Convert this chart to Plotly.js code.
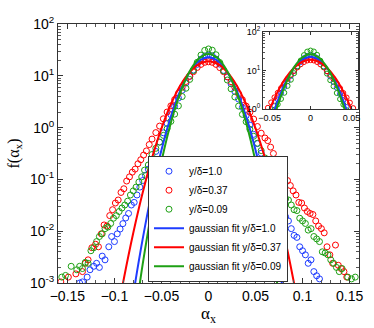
<!DOCTYPE html>
<html>
<head>
<meta charset="utf-8">
<script src="https://cdn.plot.ly/plotly-3.0.1.min.js"></script>
<style>body{margin:0;background:#fff}</style>
</head>
<body>
<div id="chart" style="width:374px;height:328px"></div>
<script>
// histogram points, f(alpha_x)
var blueX = [-0.137,-0.134,-0.129,-0.126,-0.122,-0.119,-0.116,-0.113,-0.110,-0.106,-0.103,-0.100,-0.097,-0.094,-0.091,-0.088,-0.085,-0.082,-0.079,-0.076,-0.073,-0.070,-0.067,-0.064,
  -0.060,-0.056,-0.052,-0.048,-0.044,-0.040,-0.036,-0.032,-0.028,-0.024,-0.020,-0.016,-0.012,-0.008,-0.004,0.000,
  0.004,0.008,0.012,0.016,0.020,0.024,0.028,0.032,0.036,0.040,0.044,0.048,0.052,0.056,0.060,
  0.064,0.067,0.070,0.073,0.076,0.079,0.082,0.085,0.088,0.091,0.094,0.097,0.100,0.103,0.106,0.109,0.112,0.115,0.118];
var blueY = [0.00100,0.00105,0.0013,0.0018,0.0021,0.0024,0.0020,0.0033,0.0028,0.0050,0.0079,0.0063,0.0089,0.011,0.014,0.018,0.022,0.032,0.036,0.050,0.071,0.095,0.120,0.158,
  0.229,0.347,0.525,0.794,1.20,1.78,2.57,3.72,5.25,7.24,9.77,12.9,16.6,20.9,24.0,25.1,
  24.2,21.0,16.8,12.7,9.5,7.0,5.0,3.55,2.45,1.70,1.12,0.74,0.49,0.32,0.21,
  0.132,0.100,0.071,0.050,0.038,0.025,0.019,0.0158,0.0112,0.0083,0.0076,0.0050,0.0042,0.0035,0.0024,0.0028,0.00166,0.00138,0.0012];

var redX = [-0.157,-0.149,-0.141,-0.134,-0.131,-0.128,-0.124,-0.120,-0.117,-0.114,-0.111,-0.108,-0.105,-0.102,-0.099,-0.096,-0.093,-0.090,-0.087,-0.084,-0.081,-0.078,-0.075,-0.072,-0.069,-0.066,-0.063,
  -0.060,-0.056,-0.052,-0.048,-0.044,-0.040,-0.036,-0.032,-0.028,-0.024,-0.020,-0.016,-0.012,-0.008,-0.004,0.000,
  0.004,0.008,0.012,0.016,0.020,0.024,0.028,0.032,0.036,0.040,0.044,0.048,0.052,0.056,0.060,
  0.063,0.066,0.069,0.072,0.075,0.078,0.081,0.084,0.087,0.090,0.093,0.096,0.099,0.102,0.105,0.108,0.111,0.114,0.117,0.120,0.123,0.126,0.129,0.132,0.135,0.138,0.141,0.144,0.147];
var redY = [0.00105,0.0013,0.0015,0.00166,0.0024,0.0028,0.0048,0.0056,0.0050,0.0089,0.0132,0.0126,0.020,0.026,0.035,0.040,0.056,0.066,0.093,0.112,0.138,0.158,0.20,0.24,0.295,0.355,0.47,
  0.60,0.80,1.07,1.48,2.00,2.63,3.47,4.57,6.03,7.76,9.77,12.0,14.5,16.6,18.2,18.6,
  18.2,16.6,14.4,12.0,9.6,7.7,6.0,4.5,3.45,2.6,1.98,1.46,1.05,0.78,0.63,
  0.56,0.42,0.316,0.24,0.158,0.138,0.132,0.095,0.076,0.060,0.050,0.036,0.035,0.028,0.024,0.022,0.021,0.0158,0.0126,0.0112,0.0093,0.0050,0.0035,0.0024,0.0054,0.0022,0.0019,0.00166,0.0013];

var greenX = [-0.156,-0.152,-0.146,-0.140,-0.137,-0.134,-0.131,-0.128,-0.125,-0.122,-0.119,-0.116,-0.113,-0.110,-0.107,-0.104,-0.101,-0.098,-0.095,-0.092,-0.089,-0.086,-0.083,-0.080,-0.077,-0.074,-0.071,-0.068,-0.064,
  -0.060,-0.056,-0.052,-0.048,-0.044,-0.040,-0.036,-0.032,-0.028,-0.024,-0.020,-0.016,-0.012,-0.008,-0.004,0.000,
  0.004,0.008,0.012,0.016,0.020,0.024,0.028,0.032,0.036,0.040,0.044,0.048,0.052,0.056,0.060,
  0.064,0.067,0.070,0.073,0.076,0.079,0.082,0.085,0.088,0.091,0.094,0.097,0.100,0.103,0.106,0.109,0.112,0.115,0.118,0.121,0.124,0.127,0.130,0.133,0.136,0.139,0.142,0.148,0.152,0.156];
var greenY = [0.0013,0.0014,0.0021,0.0018,0.0021,0.0019,0.0025,0.0024,0.0042,0.0048,0.0063,0.0079,0.0089,0.0112,0.012,0.0141,0.0178,0.020,0.024,0.028,0.032,0.038,0.050,0.060,0.071,0.089,0.112,0.151,0.19,
  0.302,0.398,0.525,0.708,0.955,1.32,1.82,2.63,3.98,5.75,8.51,12.6,18.2,25.1,31.0,33.0,
  31.2,25.5,18.0,12.4,8.3,5.6,3.9,2.6,1.8,1.30,0.93,0.68,0.50,0.36,0.26,
  0.178,0.141,0.112,0.089,0.076,0.056,0.042,0.040,0.032,0.026,0.025,0.0178,0.0158,0.0141,0.0105,0.0112,0.0079,0.0071,0.0063,0.0040,0.0038,0.0035,0.0028,0.0024,0.0020,0.00166,0.0019,0.0013,0.0012,0.0013];

// gaussian fit curves
var fitX = [-0.10,-0.09,-0.08,-0.07,-0.06,-0.05,-0.04,-0.03,-0.02,-0.01,0,0.01,0.02,0.03,0.04,0.05,0.06,0.07,0.08,0.09,0.10];
var blueFit = [0.0000035,0.0000356,0.00059,0.00703,0.0601,0.369,1.63,5.19,11.8,19.4,22.9,19.4,11.8,5.19,1.63,0.369,0.0601,0.00703,0.00059,0.0000356,0.0000035];
var redFit = [0.000126,0.00121,0.00923,0.0552,0.260,0.966,2.82,6.52,11.8,16.9,19.1,16.9,11.8,6.52,2.82,0.966,0.260,0.0552,0.00923,0.00121,0.000126];
var greenFit = [0.0000013,0.0000093,0.00013,0.00228,0.0273,0.222,1.24,4.72,12.2,21.7,26.3,21.7,12.2,4.72,1.24,0.222,0.0273,0.00228,0.00013,0.0000093,0.0000013];

var labels = ['y/\u03b4=1.0', 'y/\u03b4=0.37', 'y/\u03b4=0.09'];
var colors = ['rgb(30,60,255)', 'rgb(255,0,0)', 'rgb(30,160,20)'];

var pts = [[blueX, blueY], [redX, redY], [greenX, greenY]];
var fits = [blueFit, redFit, greenFit];

var traces = [];
pts.forEach(function(p, i) {
  traces.push({type: 'scatter', mode: 'markers', name: labels[i], x: p[0], y: p[1],
    marker: {symbol: 'circle-open', size: 6, color: colors[i], line: {width: 1}}});
});
fits.forEach(function(f, i) {
  traces.push({type: 'scatter', mode: 'lines', name: 'gaussian fit ' + labels[i], x: fitX, y: f,
    line: {color: colors[i], width: 2, shape: 'spline'}});
});
// inset: same data, zoomed on the core
pts.forEach(function(p, i) {
  traces.push({type: 'scatter', mode: 'markers', showlegend: false, x: p[0], y: p[1],
    xaxis: 'x2', yaxis: 'y2',
    marker: {symbol: 'circle-open', size: 5, color: colors[i], line: {width: 1}}});
});
fits.forEach(function(f, i) {
  traces.push({type: 'scatter', mode: 'lines', showlegend: false, x: fitX, y: f,
    xaxis: 'x2', yaxis: 'y2',
    line: {color: colors[i], width: 2, shape: 'spline'}});
});

var minorLog = [];
for (var d = -3; d < 2; d++) {
  for (var k = 2; k < 10; k++) minorLog.push(k * Math.pow(10, d));
}

var axFont = {family: 'Liberation Sans, Arial, sans-serif', size: 14, color: '#000'};
var smallFont = {family: 'Liberation Sans, Arial, sans-serif', size: 9, color: '#000'};

var layout = {
  width: 374, height: 328,
  margin: {l: 58, r: 15, t: 24, b: 45},
  paper_bgcolor: '#fff', plot_bgcolor: '#fff',
  xaxis: {
    domain: [0, 1], range: [-0.16, 0.16],
    tickmode: 'linear', tick0: 0, dtick: 0.05,
    ticks: 'inside', ticklen: 5, tickcolor: '#333',
    minor: {dtick: 0.01, ticks: 'inside', ticklen: 3, tickcolor: '#555', showgrid: false},
    showline: true, linecolor: '#333', linewidth: 1, mirror: 'allticks',
    showgrid: false, zeroline: false,
    tickfont: axFont,
    title: {text: '\u03b1<sub>x</sub>', font: {family: 'Liberation Serif, Times New Roman, serif', size: 17, color: '#000'}, standoff: 4}
  },
  yaxis: {
    domain: [0, 1], type: 'log', range: [-3, 2],
    tickmode: 'array',
    tickvals: [0.001, 0.01, 0.1, 1, 10, 100],
    ticktext: ['10<sup>-3</sup>', '10<sup>-2</sup>', '10<sup>-1</sup>', '10<sup>0</sup>', '10<sup>1</sup>', '10<sup>2</sup>'],
    ticks: 'inside', ticklen: 5, tickcolor: '#333',
    minor: {tickmode: 'array', tickvals: minorLog, ticks: 'inside', ticklen: 3, tickcolor: '#555', showgrid: false},
    showline: true, linecolor: '#333', linewidth: 1, mirror: 'allticks',
    showgrid: false, zeroline: false,
    tickfont: axFont,
    title: {text: 'f(\u03b1<sub>x</sub>)', font: {family: 'Liberation Serif, Times New Roman, serif', size: 16, color: '#000'}, standoff: 6}
  },
  xaxis2: {
    domain: [0.681, 0.997], anchor: 'y2', range: [-0.058, 0.058],
    tickmode: 'array', tickvals: [-0.05, 0, 0.05], ticktext: ['\u22120.05', '0', '0.05'],
    ticks: 'inside', ticklen: 3, tickcolor: '#333',
    showline: true, linecolor: '#333', linewidth: 1, mirror: 'allticks',
    showgrid: false, zeroline: false, tickfont: smallFont
  },
  yaxis2: {
    domain: [0.672, 0.969], anchor: 'x2', type: 'log', range: [0, 2],
    tickmode: 'array', tickvals: [1, 10, 100],
    ticktext: ['10<sup>0</sup>', '10<sup>1</sup>', '10<sup>2</sup>'],
    ticks: 'inside', ticklen: 3, tickcolor: '#333',
    minor: {tickmode: 'array', tickvals: minorLog, ticks: 'inside', ticklen: 2, tickcolor: '#555', showgrid: false},
    showline: true, linecolor: '#333', linewidth: 1, mirror: 'allticks',
    showgrid: false, zeroline: false, tickfont: smallFont
  },
  showlegend: true,
  legend: {
    x: 0.299, y: 0.005, xanchor: 'left', yanchor: 'bottom',
    bgcolor: '#fff', bordercolor: '#333', borderwidth: 1,
    font: {family: 'Liberation Sans, Arial, sans-serif', size: 10, color: '#000'},
    itemwidth: 30, tracegroupgap: 0
  }
};

Plotly.newPlot('chart', traces, layout, {displayModeBar: false, staticPlot: true});
</script>
</body>
</html>
